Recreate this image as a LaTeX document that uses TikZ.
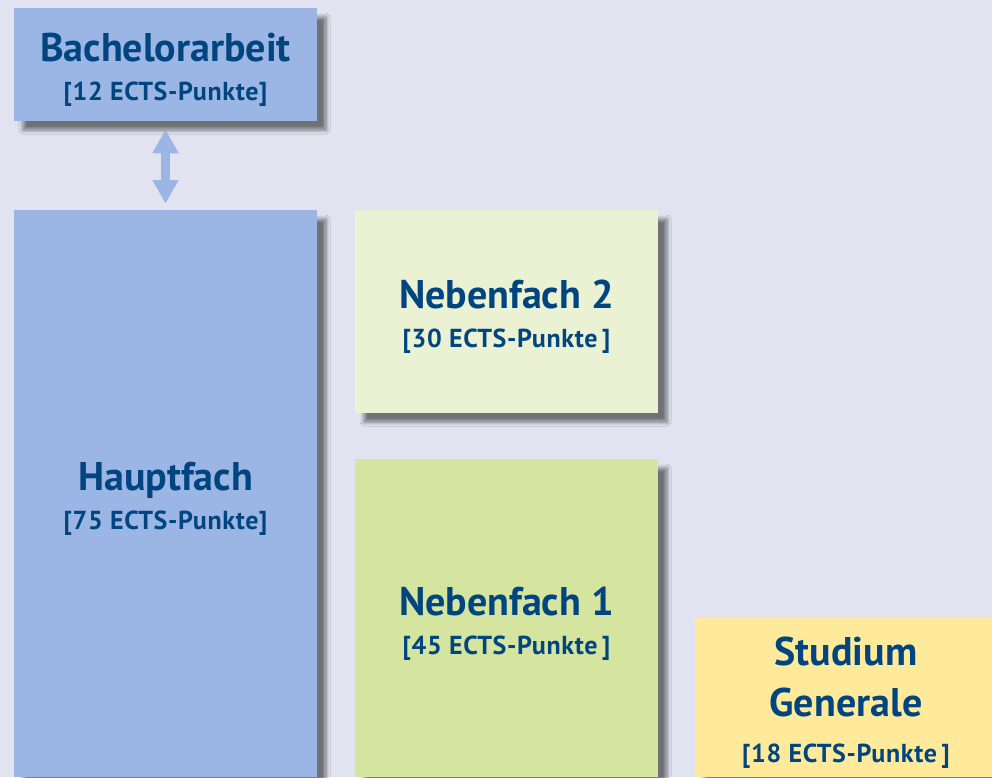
\documentclass[tikz,border=0pt]{standalone}
\usepackage{fontspec}
\setmainfont{PT Sans}
\usetikzlibrary{shadows.blur,arrows.meta}
\definecolor{bg}{HTML}{E1E4F0}
\definecolor{txt}{HTML}{00457F}
\definecolor{blueb}{HTML}{9BB6E4}
\definecolor{nebtwo}{HTML}{EBF2D4}
\definecolor{nebone}{HTML}{D5E49E}
\definecolor{studg}{HTML}{FEEA9A}
\newcommand\boxtitle[1]{{\fontsize{40}{39}\selectfont\rule{0pt}{39pt}#1}}
\newcommand\boxsub[1]{{\addfontfeature{LetterSpace=2.5}#1}}
\begin{document}
\begin{tikzpicture}[x=1pt,y=-1pt,
  box/.style={inner sep=0pt, outer sep=0pt, align=center, text=txt,
    font=\bfseries\fontsize{26}{39}\selectfont, minimum width=303pt,
    blur shadow={shadow xshift=9pt, shadow yshift=-9pt, shadow blur radius=4pt, shadow blur steps=8, shadow opacity=50}},
  bigtip/.tip={Triangle[width=24pt,length=23pt]},
  link/.style={line width=9pt, bigtip-bigtip, shorten <=9pt, shorten >=7pt}]
\clip (0,0) rectangle (992,777);
\fill[bg] (0,0) rectangle (992,777);
\node[box, fill=blueb, minimum height=113pt] (bach) at (165.5,64.5)
  {\boxtitle{Bachelorarbeit}\\\boxsub{[12 ECTS-Punkte]}};
\node[box, fill=blueb, minimum height=567pt] (haupt) at (165.5,493.5)
  {\boxtitle{Hauptfach}\\\boxsub{[75 ECTS-Punkte]}};
\node[box, fill=nebtwo, minimum height=203pt] (neb2) at (506.5,311.5)
  {\boxtitle{Nebenfach 2}\\\boxsub{[30 ECTS-Punkte\,]}};
\node[box, fill=nebone, minimum height=318pt] (neb1) at (506.5,618)
  {\boxtitle{Nebenfach 1}\\\boxsub{[45 ECTS-Punkte\,]}};
\node[box, fill=studg, minimum height=159pt] (stud) at (846,697.5)
  {\boxtitle{Studium}\\[12pt]{\fontsize{40}{39}\selectfont Generale}\\[7pt]\boxsub{[18 ECTS-Punkte\,]}};
\draw[link, black, opacity=0.35, xshift=6pt, yshift=-6pt] (bach.south) -- (haupt.north);
\draw[link, blueb] (bach.south) -- (haupt.north);
\end{tikzpicture}
\end{document}
